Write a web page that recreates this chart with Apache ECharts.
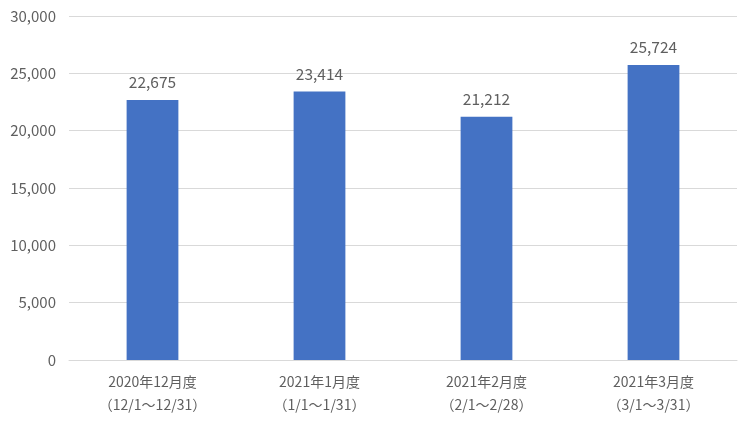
<!DOCTYPE html>
<html><head><meta charset="utf-8">
<script src="https://cdn.jsdelivr.net/npm/echarts@6/dist/echarts.min.js"></script>
<style>html,body{margin:0;padding:0;background:#fff}#c{width:750px;height:425px}</style>
</head><body><div id="c"></div>
<script>
const categories = ['2020年12月度\n（12/1～12/31）', '2021年1月度\n（1/1～1/31）', '2021年2月度\n（2/1～2/28）', '2021年3月度\n（3/1～3/31）'];
const values = [22675, 23414, 21212, 25724];
const yTicks = { min: 0, max: 30000, interval: 5000 };
const font = '"Noto Sans CJK JP", "Noto Sans", sans-serif';
const chart = echarts.init(document.getElementById('c'));
chart.setOption({
  animation: false,
  grid: { left: 69, right: 13, top: 16, bottom: 65 },
  xAxis: {
    type: 'category', data: categories,
    axisLine: { lineStyle: { color: '#d9d9d9' } },
    axisTick: { show: false },
    axisLabel: { color: '#5f5f5f', fontSize: 14, fontFamily: font, lineHeight: 23, margin: 10 }
  },
  yAxis: {
    type: 'value', min: yTicks.min, max: yTicks.max, interval: yTicks.interval,
    axisLine: { show: false }, axisTick: { show: false },
    splitLine: { lineStyle: { color: '#d9d9d9' } },
    axisLabel: { color: '#5f5f5f', fontSize: 15, fontFamily: font, margin: 13,
      formatter: v => v.toLocaleString('en-US') }
  },
  series: [{
    type: 'bar', data: values, barWidth: '31%',
    itemStyle: { color: '#4472C4' },
    label: { show: true, position: 'top', distance: 10, color: '#5f5f5f', fontSize: 15.5, fontFamily: font,
      formatter: p => p.value.toLocaleString('en-US') }
  }]
});
</script></body></html>
